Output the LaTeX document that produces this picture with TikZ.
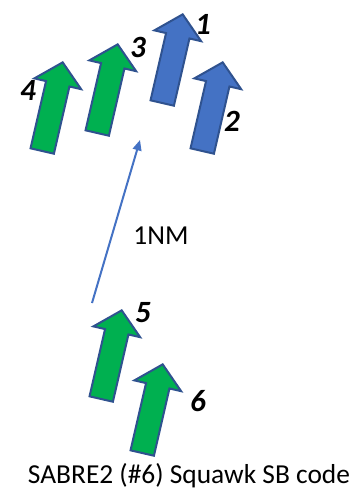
\documentclass[tikz,border=0pt]{standalone}
\usepackage{fontspec}
\setmainfont{Carlito}
\usetikzlibrary{shapes.arrows,arrows.meta}
\definecolor{mygreen}{HTML}{00B050}
\definecolor{myblue}{HTML}{4472C4}
\definecolor{myedge}{HTML}{2F528F}

\begin{document}
\begin{tikzpicture}[x=0.25mm,y=-0.25mm]
\useasboundingbox (0,0) rectangle (359,500);
\tikzset{Plane/.style ={single arrow, draw=myedge, line width=0.5mm,
    inner xsep=0, inner ysep=2.75mm, minimum height=22.75mm,
    single arrow head extend=3mm, single arrow tip angle=95,
    rotate=77, anchor=tail},
  PlaneLabel/.style ={font=\fontsize{22}{26}\selectfont\bfseries\itshape},
  NmLine/.style ={draw=myblue, line width=0.5mm,
    -{Triangle[length=2.6mm,width=2.2mm]}}}
% blue pair
\node[Plane, fill=myblue] (p1) at (162,104) {};
\node[Plane, fill=myblue] (p2) at (202,152) {};
% green four-ship
\node[Plane, fill=mygreen] (p3) at (97,134) {};
\node[Plane, fill=mygreen] (p4) at (42,152) {};
\node[Plane, fill=mygreen] (p5) at (101,400) {};
\node[Plane, fill=mygreen] (p6) at (142,454) {};
\node[PlaneLabel] (l1) at (203,24) {1};
\node[PlaneLabel] (l2) at (232,121) {2};
\node[PlaneLabel] (l3) at (138,47) {3};
\node[PlaneLabel] (l4) at (28,90) {4};
\node[PlaneLabel] (l5) at (143,313) {5};
\node[PlaneLabel] (l6) at (198,401) {6};
% range line
\coordinate (nmtail) at (92,303);
\coordinate (nmtip) at (140,140);
\draw[NmLine] (nmtail) -- (nmtip);
\node[font=\fontsize{19.5}{23}\selectfont] (nm) at (161,236) {1NM};
\node[font=\fontsize{19.5}{23}\selectfont] (caption) at (189,476) {SABRE2 (\#6) Squawk SB code};
\end{tikzpicture}
\end{document}
